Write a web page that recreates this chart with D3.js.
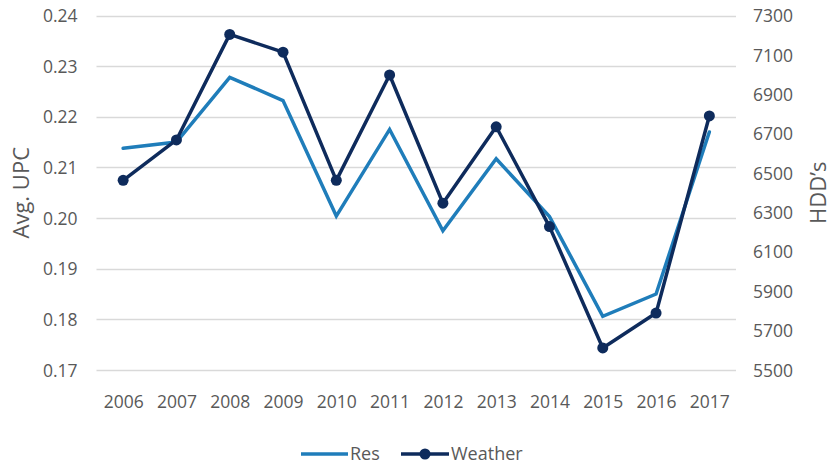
<!DOCTYPE html>
<html>
<head>
<meta charset="utf-8">
<script src="https://cdn.jsdelivr.net/npm/d3@7"></script>
<style>
  html, body { margin: 0; padding: 0; background: #fff; }
  svg { display: block; }
  text { font-family: "Open Sans", "Noto Sans", sans-serif; fill: #595959; }
</style>
</head>
<body>
<svg id="chart" width="831" height="466"></svg>
<script>
// Years on the category axis
const years = ["2006","2007","2008","2009","2010","2011","2012","2013","2014","2015","2016","2017"];
// Average use per customer (left axis)
const resValues = [0.2138, 0.2150, 0.2278, 0.2232, 0.2004, 0.2175, 0.1975, 0.2117, 0.2003, 0.1806, 0.1850, 0.2170];
// Heating degree days (right axis)
const weatherValues = [6463, 6668, 7204, 7114, 6463, 6998, 6347, 6735, 6228, 5612, 5789, 6790];
// Tick labels for both value axes
const leftTicks = [0.17, 0.18, 0.19, 0.20, 0.21, 0.22, 0.23, 0.24];
const rightTicks = [5500, 5700, 5900, 6100, 6300, 6500, 6700, 6900, 7100, 7300];

const resColor = "#1f7dba";
const weatherColor = "#0e2b5c";

const svg = d3.select("#chart");
const plot = { left: 96.5, right: 736, top: 15.5, bottom: 370 };

const x = d3.scalePoint().domain(years).range([plot.left, plot.right]).padding(0.5);
const yLeft = d3.scaleLinear().domain([0.17, 0.24]).range([plot.bottom, plot.top]);
const yRight = d3.scaleLinear().domain([5500, 7300]).range([plot.bottom, plot.top]);

// Horizontal gridlines
svg.append("g")
  .selectAll("line")
  .data(leftTicks)
  .join("line")
  .attr("x1", plot.left).attr("x2", plot.right)
  .attr("y1", d => Math.round(yLeft(d)) + 0.5)
  .attr("y2", d => Math.round(yLeft(d)) + 0.5)
  .attr("stroke", "#d9d9d9").attr("stroke-width", 1.3);

// Left axis
const leftAxis = svg.append("g")
  .attr("transform", `translate(${plot.left - 19},0)`)
  .call(d3.axisLeft(yLeft).tickValues(leftTicks).tickFormat(d3.format(".2f")).tickSize(0).tickPadding(0));
leftAxis.select(".domain").remove();
leftAxis.selectAll("text").style("font-size", "17.5px").attr("fill", "#595959").attr("dy", "0.35em");

// Right axis
const rightAxis = svg.append("g")
  .attr("transform", `translate(${plot.right + 17},0)`)
  .call(d3.axisRight(yRight).tickValues(rightTicks).tickFormat(d3.format("d")).tickSize(0).tickPadding(0));
rightAxis.select(".domain").remove();
rightAxis.selectAll("text").style("font-size", "17.5px").attr("fill", "#595959").attr("dy", "0.35em");

// Category axis
const bottomAxis = svg.append("g")
  .attr("transform", `translate(0,${plot.bottom + 32})`)
  .call(d3.axisBottom(x).tickSize(0).tickPadding(0));
bottomAxis.select(".domain").remove();
bottomAxis.selectAll("text").style("font-size", "17.5px").attr("fill", "#595959").attr("dy", "0.35em");

// Axis titles
svg.append("text")
  .attr("transform", `translate(29,${(plot.top + plot.bottom) / 2}) rotate(-90)`)
  .attr("text-anchor", "middle")
  .style("font-size", "22px")
  .text("Avg. UPC");
svg.append("text")
  .attr("transform", `translate(826,${(plot.top + plot.bottom) / 2}) rotate(-90)`)
  .attr("text-anchor", "middle")
  .style("font-size", "22px")
  .text("HDD\u2019s");

// Res series
const resLine = d3.line().x((d, i) => x(years[i])).y(d => yLeft(d));
svg.append("path")
  .datum(resValues)
  .attr("d", resLine)
  .attr("fill", "none").attr("stroke", resColor)
  .attr("stroke-width", 3.5).attr("stroke-linejoin", "miter").attr("stroke-linecap", "round");

// Weather series with markers
const weatherLine = d3.line().x((d, i) => x(years[i])).y(d => yRight(d));
svg.append("path")
  .datum(weatherValues)
  .attr("d", weatherLine)
  .attr("fill", "none").attr("stroke", weatherColor)
  .attr("stroke-width", 3.5).attr("stroke-linejoin", "round");
svg.append("g")
  .selectAll("circle")
  .data(weatherValues)
  .join("circle")
  .attr("cx", (d, i) => x(years[i]))
  .attr("cy", d => yRight(d))
  .attr("r", 5.5)
  .attr("fill", weatherColor);

// Legend
const legend = svg.append("g").attr("transform", "translate(0,454)");
legend.append("line")
  .attr("x1", 301).attr("x2", 348).attr("y1", 0).attr("y2", 0)
  .attr("stroke", resColor).attr("stroke-width", 3.5);
legend.append("text")
  .attr("x", 350).attr("y", 0).attr("dy", "0.35em")
  .style("font-size", "18px").text("Res");
legend.append("line")
  .attr("x1", 401).attr("x2", 449).attr("y1", 0).attr("y2", 0)
  .attr("stroke", weatherColor).attr("stroke-width", 3.5);
legend.append("circle")
  .attr("cx", 425).attr("cy", 0).attr("r", 5.5).attr("fill", weatherColor);
legend.append("text")
  .attr("x", 451).attr("y", 0).attr("dy", "0.35em")
  .style("font-size", "18px").text("Weather");
</script>
</body>
</html>
